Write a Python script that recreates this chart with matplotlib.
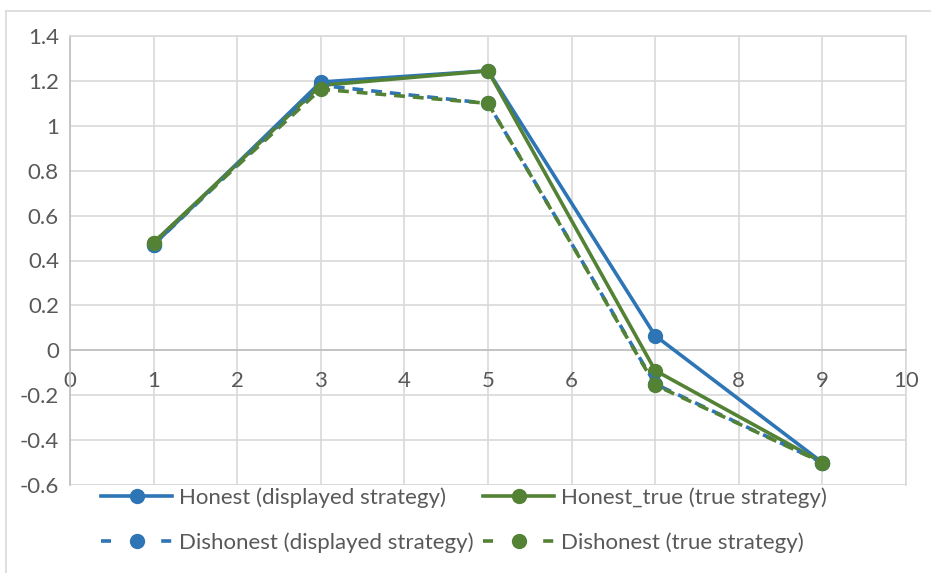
import matplotlib
matplotlib.use("Agg")
import matplotlib.pyplot as plt
from matplotlib.lines import Line2D

plt.rcParams['font.family'] = ['Lato', 'DejaVu Sans']

rounds = [1, 3, 5, 7, 9]
honest_disp = [0.47, 1.195, 1.245, 0.065, -0.50]
honest_true = [0.48, 1.18, 1.245, -0.09, -0.50]
dishonest_disp = [0.47, 1.18, 1.10, -0.15, -0.50]
dishonest_true = [0.48, 1.163, 1.10, -0.155, -0.50]

labels = ['Honest (displayed strategy)', 'Honest_true (true strategy)',
          'Dishonest (displayed strategy)', 'Dishonest (true strategy)']

BLUE = '#2E75B6'
GREEN = '#548235'
GRID = '#D9D9D9'
TEXT = '#595959'
LW = 2.6
MS = 10
DASH = (0, (3.0, 2.2))

fig = plt.figure(figsize=(9.31, 5.73), dpi=100)
ax = fig.add_axes([70 / 931, 1 - 485 / 573, (906 - 70) / 931, (485 - 36) / 573])

styles = [
    (honest_disp, BLUE, '-'),
    (honest_true, GREEN, '-'),
    (dishonest_disp, BLUE, DASH),
    (dishonest_true, GREEN, DASH),
]
for (ys, col, ls), lab in zip(styles, labels):
    ax.plot(rounds, ys, color=col, ls=ls, lw=LW, marker='o', ms=MS,
            label=lab, solid_capstyle='round', zorder=3)

ax.set_xlim(0, 10)
ax.set_ylim(-0.6, 1.4)
ax.set_xticks(range(0, 11))
ax.set_yticks([-0.6, -0.4, -0.2, 0, 0.2, 0.4, 0.6, 0.8, 1, 1.2, 1.4])
ax.set_yticklabels(['-0.6', '-0.4', '-0.2', '0', '0.2', '0.4', '0.6', '0.8',
                    '1', '1.2', '1.4'])
ax.grid(True, color=GRID, lw=1.2, zorder=0)
ax.set_axisbelow(True)

# x axis crosses at y = 0
ax.spines['bottom'].set_position(('data', 0))
ax.spines['bottom'].set_color('#BFBFBF')
ax.spines['bottom'].set_linewidth(1.2)
ax.spines['left'].set_color('#BFBFBF')
ax.spines['left'].set_linewidth(1.2)
for s in ['top', 'right']:
    ax.spines[s].set_color(GRID)
    ax.spines[s].set_linewidth(1.2)

ax.tick_params(axis='both', length=0, colors=TEXT, labelsize=16)
ax.tick_params(axis='x', pad=15)
ax.tick_params(axis='y', pad=8)

# plot area bottom edge
ax.axhline(-0.6, color=GRID, lw=1.2, zorder=0)

# legend: dashed entries show a short dash on each side of the marker
side_dash = (0, (10 / 3.6, 50 / 3.6))
handles = [
    Line2D([], [], color=BLUE, lw=LW, marker='o', ms=MS),
    Line2D([], [], color=BLUE, lw=LW, ls=side_dash, marker='o', ms=MS),
    Line2D([], [], color=GREEN, lw=LW, marker='o', ms=MS),
    Line2D([], [], color=GREEN, lw=LW, ls=side_dash, marker='o', ms=MS),
]
order = [0, 2, 1, 3]
fig.legend(handles, [labels[i] for i in order], ncol=2, loc='center',
           bbox_to_anchor=(464 / 931, 1 - 520 / 573),
           frameon=False, fontsize=16, labelcolor=TEXT, handlelength=3.2,
           handletextpad=0.3, columnspacing=0.45, labelspacing=1.1,
           borderpad=0, borderaxespad=0)

# chart frame
fig.add_artist(Line2D([6 / 931, 1], [1 - 10.5 / 573] * 2, color=GRID, lw=1.2,
                      transform=fig.transFigure))
fig.add_artist(Line2D([6 / 931] * 2, [0, 1 - 10.5 / 573], color=GRID, lw=1.2,
                      transform=fig.transFigure))

fig.savefig('out.png', dpi=100)
